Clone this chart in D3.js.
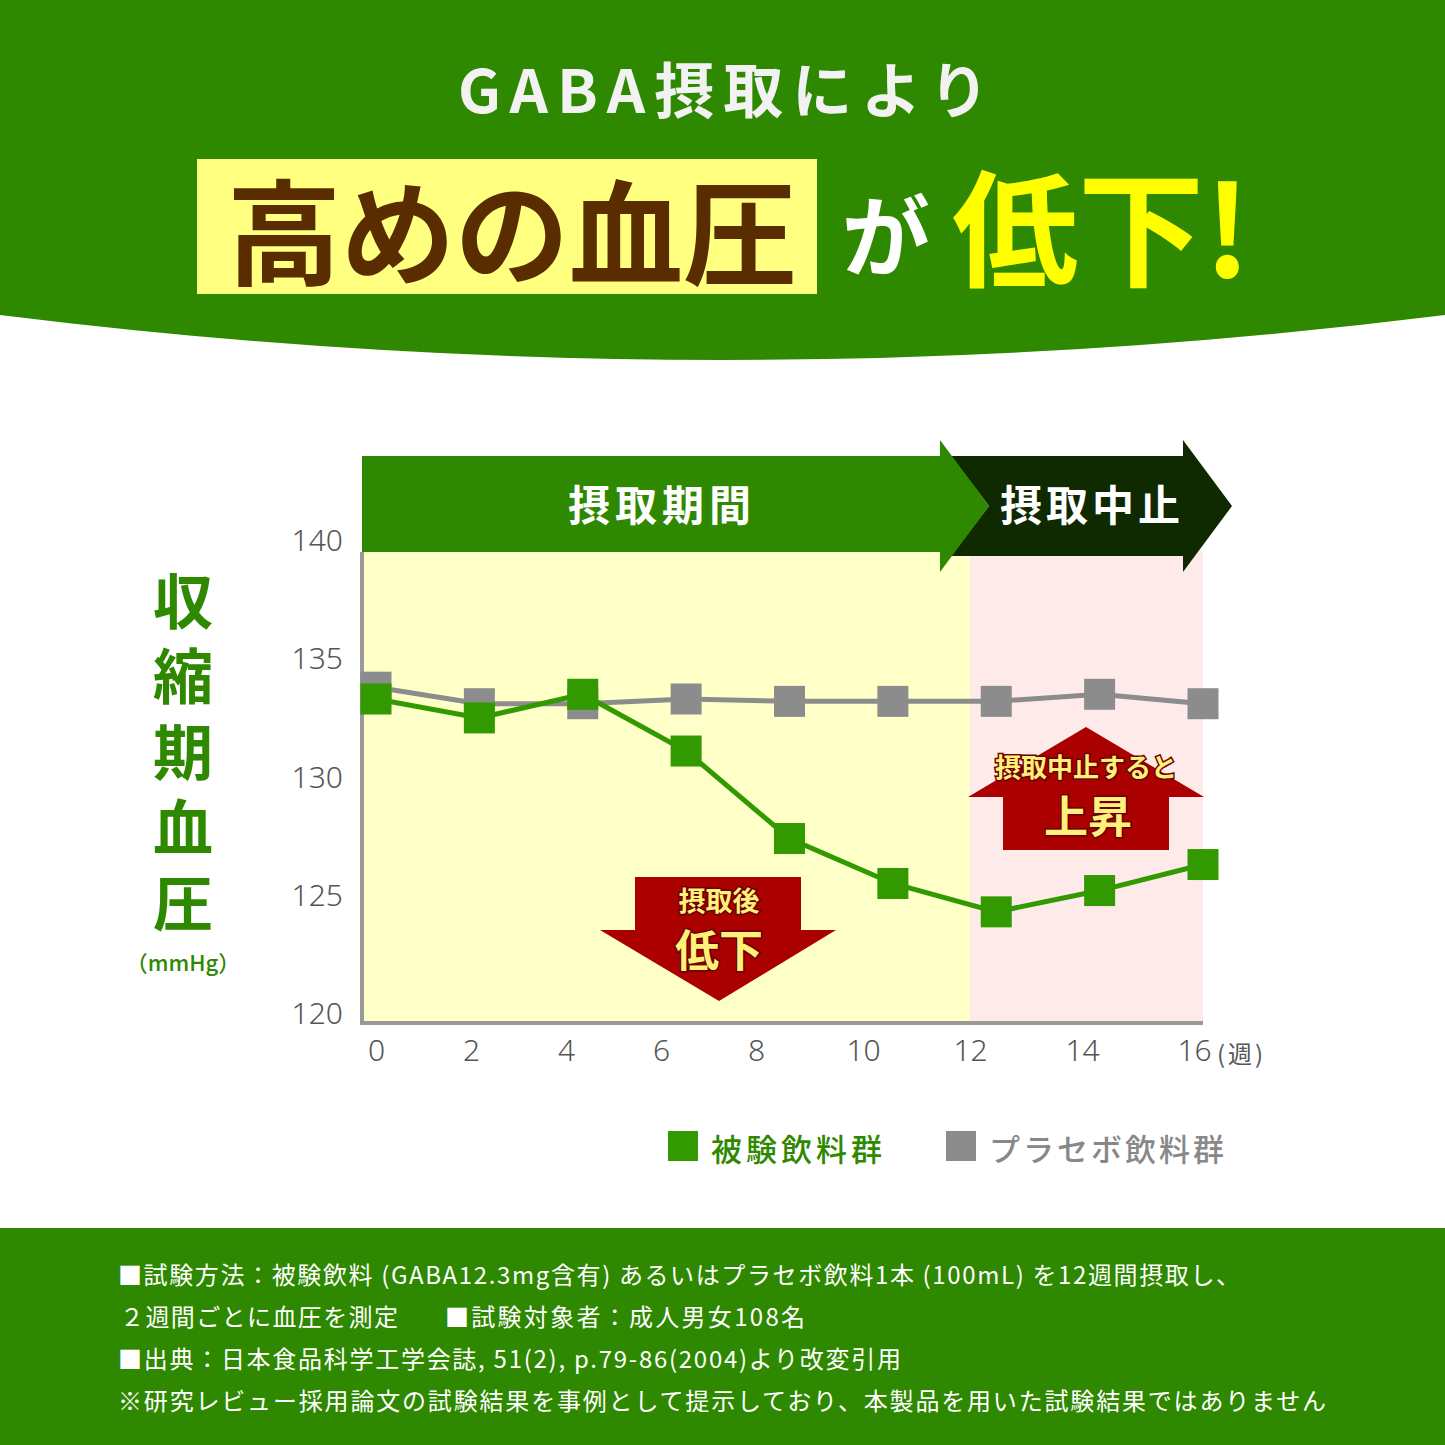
<!DOCTYPE html>
<html>
<head>
<meta charset="utf-8">
<script src="https://cdn.jsdelivr.net/npm/d3@7"></script>
<style>
  body { margin: 0; background: #fff; }
  svg text { font-family: "Noto Sans CJK JP", "Noto Sans", sans-serif; }
</style>
</head>
<body>
<svg id="chart" width="1445" height="1445"></svg>
<script>
// data (systolic blood pressure, mmHg)
var weeks = [0, 2, 4, 6, 8, 10, 12, 14, 16]
var testGroup = [133.7, 132.9, 133.9, 131.5, 127.8, 125.9, 124.7, 125.6, 126.7]
var placeboGroup = [134.2, 133.5, 133.5, 133.7, 133.6, 133.6, 133.6, 133.9, 133.5]
var yTicks = [120, 125, 130, 135, 140]
var xTicks = [0, 2, 4, 6, 8, 10, 12, 14, 16]
var seriesNames = ["被験飲料群", "プラセボ飲料群"]
var intakeEnd = 12

var footLines = [
    "■試験方法：被験飲料 (GABA12.3mg含有) あるいはプラセボ飲料1本 (100mL) を12週間摂取し、",
    "■出典：日本食品科学工学会誌, 51(2), p.79-86(2004)より改変引用",
    "※研究レビュー採用論文の試験結果を事例として提示しており、本製品を用いた試験結果ではありません"
]

var GREEN = "#2e8800", LINE_GREEN = "#339900", GREY = "#8c8c8c", RED = "#aa0000"

var svg = d3.select("svg#chart")

// ---- header ----
svg.append("path")
    .attr("d", "M0,0 H1445 V315 Q722.5,405 0,315 Z")
    .attr("fill", GREEN)

svg.append("text").attr("x", 728).attr("y", 86)
    .attr("text-anchor", "middle").attr("dominant-baseline", "central")
    .attr("fill", "#f2f2f2").style("font-size", "60px").style("font-weight", 700)
    .style("letter-spacing", "9px")
    .text("GABA摂取により")

svg.append("rect").attr("x", 197).attr("y", 159).attr("width", 620).attr("height", 135)
    .attr("fill", "#ffff80")
svg.append("text").attr("x", 512).attr("y", 226)
    .attr("text-anchor", "middle").attr("dominant-baseline", "central")
    .attr("fill", "#5a2d00").style("font-size", "114px").style("font-weight", 700)
    .text("高めの血圧")
svg.append("text").attr("x", 886).attr("y", 230)
    .attr("text-anchor", "middle").attr("dominant-baseline", "central")
    .attr("fill", "#fff").style("font-size", "88px").style("font-weight", 700)
    .text("が")
svg.append("text").attr("x", 952).attr("y", 222)
    .attr("dominant-baseline", "central")
    .attr("fill", "#ffff00").style("font-size", "126px").style("font-weight", 700)
    .text("低下!")

// ---- chart ----
var plotL = 362, plotR = 1203, plotT = 552, plotB = 1023

var x = d3.scaleLinear().domain([0, 16]).range([376, plotR])
var y = d3.scaleLinear().domain([120, 140]).range([plotB, plotT - 2])
// tick labels in the original are not evenly spread
var xLabel = d3.scaleLinear().domain([0, 8, 12, 16]).range([376, 756, 970, 1194])

// period backgrounds
svg.append("rect").attr("x", plotL).attr("y", plotT)
    .attr("width", xLabel(intakeEnd) - plotL).attr("height", plotB - plotT)
    .attr("fill", "#ffffc8")
svg.append("rect").attr("x", xLabel(intakeEnd)).attr("y", plotT)
    .attr("width", plotR - xLabel(intakeEnd)).attr("height", plotB - plotT)
    .attr("fill", "#ffeaea")

// period arrows
svg.append("path")
    .attr("d", "M951,456 H1183 V440 L1232,506 L1183,572 V556 H951 L989,506 Z")
    .attr("fill", "#0f2a00")
svg.append("path")
    .attr("d", "M" + plotL + ",456 H940 V440 L989,506 L940,572 V552 H" + plotL + " Z")
    .attr("fill", GREEN)
svg.append("text").attr("x", 662).attr("y", 502)
    .attr("text-anchor", "middle").attr("dominant-baseline", "central")
    .attr("fill", "#fff").style("font-size", "42px").style("font-weight", 700)
    .style("letter-spacing", "5px").text("摂取期間")
svg.append("text").attr("x", 1092).attr("y", 502)
    .attr("text-anchor", "middle").attr("dominant-baseline", "central")
    .attr("fill", "#fff").style("font-size", "42px").style("font-weight", 700)
    .style("letter-spacing", "4px").text("摂取中止")

// axes
svg.append("line").attr("x1", plotL).attr("x2", plotL).attr("y1", plotT).attr("y2", plotB + 2)
    .attr("stroke", "#999").attr("stroke-width", 4)
svg.append("line").attr("x1", plotL - 2).attr("x2", plotR).attr("y1", plotB).attr("y2", plotB)
    .attr("stroke", "#999").attr("stroke-width", 4)

var yAxis = svg.append("g").attr("transform", "translate(343,-9)")
    .call(d3.axisLeft(y).tickValues(yTicks).tickSize(0).tickPadding(0))
yAxis.select(".domain").remove()
yAxis.selectAll("text").attr("fill", "#555").style("font-size", "30px")
    .style("font-family", "'Noto Sans', sans-serif").style("font-weight", 300)

var xAxis = svg.append("g").attr("transform", "translate(0," + (plotB + 17) + ")")
    .call(d3.axisBottom(xLabel).tickValues(xTicks).tickSize(0).tickPadding(0))
xAxis.select(".domain").remove()
xAxis.selectAll("text").attr("fill", "#555").style("font-size", "30px")
    .style("font-family", "'Noto Sans', sans-serif").style("font-weight", 300)
svg.append("text").attr("x", 1217).attr("y", 1052)
    .attr("dominant-baseline", "central")
    .attr("fill", "#555").style("font-size", "24px").style("letter-spacing", "3px")
    .text("(週)")

// y title, one glyph per row
var yTitle = "収縮期血圧".split("")
svg.selectAll(".ytitle").data(yTitle).enter().append("text")
    .attr("class", "ytitle")
    .attr("x", 183).attr("y", function(d, i) { return 597 + i * 75.5 })
    .attr("text-anchor", "middle").attr("dominant-baseline", "central")
    .attr("fill", GREEN).style("font-size", "60px").style("font-weight", 700)
    .text(function(d) { return d })
svg.append("text").attr("x", 183).attr("y", 961)
    .attr("text-anchor", "middle").attr("dominant-baseline", "central")
    .attr("fill", GREEN).style("font-size", "22px").style("font-weight", 500)
    .text("（mmHg）")

// red callout arrows
svg.append("path")
    .attr("d", "M635,877 H801 V930 H836 L719,1001 L600,930 H635 Z")
    .attr("fill", RED)
svg.append("path")
    .attr("d", "M1003,850 H1169 V797 H1204 L1086,727 L968,797 H1003 Z")
    .attr("fill", RED)

function callText(tx, ty, size, str) {
    svg.append("text").attr("x", tx).attr("y", ty)
        .attr("text-anchor", "middle").attr("dominant-baseline", "central")
        .attr("fill", "#fff07a").attr("stroke", "#6a0000").attr("stroke-width", 3)
        .attr("paint-order", "stroke")
        .style("font-size", size + "px").style("font-weight", 700)
        .text(str)
}
callText(719, 899, 27, "摂取後")
callText(719, 948, 44, "低下")
callText(1086, 765, 26, "摂取中止すると")
callText(1088, 814, 44, "上昇")

// series
var sq = 31
var series = [
    { name: seriesNames[1], values: placeboGroup, color: GREY },
    { name: seriesNames[0], values: testGroup, color: LINE_GREEN }
]
var line = d3.line()
    .x(function(d, i) { return x(weeks[i]) })
    .y(function(d) { return y(d) })

series.forEach(function(s) {
    svg.append("path").datum(s.values)
        .attr("d", line)
        .attr("fill", "none").attr("stroke", s.color).attr("stroke-width", 5)
    svg.append("g").selectAll("rect").data(s.values).enter().append("rect")
        .attr("x", function(d, i) { return x(weeks[i]) - sq / 2 })
        .attr("y", function(d) { return y(d) - sq / 2 })
        .attr("width", sq).attr("height", sq)
        .attr("fill", s.color)
})

// legend
var legend = [
    { name: seriesNames[0], color: LINE_GREEN, text: GREEN, x: 668, sp: 4 },
    { name: seriesNames[1], color: GREY, text: "#888", x: 946, sp: 3 }
]
legend.forEach(function(l) {
    svg.append("rect").attr("x", l.x).attr("y", 1131).attr("width", 30).attr("height", 30)
        .attr("fill", l.color)
    svg.append("text").attr("x", l.x + 43).attr("y", 1147)
        .attr("dominant-baseline", "central")
        .attr("fill", l.text).style("font-size", "31px").style("font-weight", 500)
        .style("letter-spacing", l.sp + "px")
        .text(l.name)
})

// ---- footer ----
svg.append("rect").attr("x", 0).attr("y", 1228).attr("width", 1445).attr("height", 217)
    .attr("fill", GREEN)

function footText(tx, ty, str, len) {
    var t = svg.append("text").attr("x", tx).attr("y", ty)
        .attr("dominant-baseline", "central")
        .attr("fill", "#fff").style("font-size", "24px")
        .text(str)
    if (len) t.attr("textLength", len).attr("lengthAdjust", "spacing")
}
footText(118, 1273, footLines[0], 1122)
footText(120, 1315, "２週間ごとに血圧を測定", 278)
footText(445, 1315, "■試験対象者：成人男女108名", 360)
footText(118, 1357, footLines[1], 783)
footText(118, 1399, footLines[2], 1208)
</script>
</body>
</html>
